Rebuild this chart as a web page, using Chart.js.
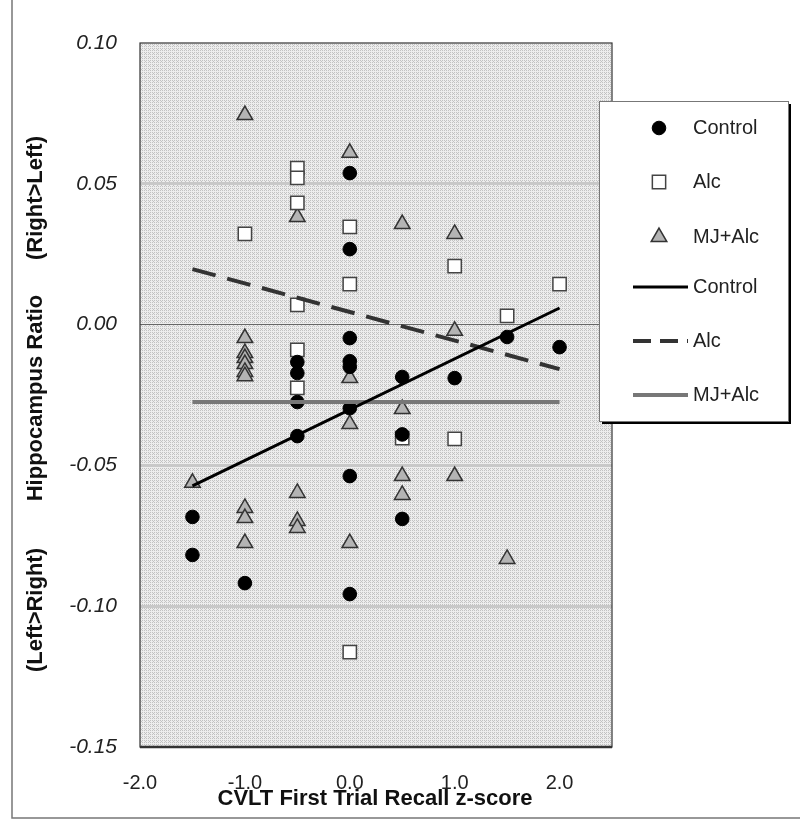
<!DOCTYPE html>
<html>
<head>
<meta charset="utf-8">
<script src="https://cdn.jsdelivr.net/npm/chart.js@4.4.1/dist/chart.umd.min.js"></script>
<style>
  html, body { margin: 0; padding: 0; background: #fff; }
  #wrap { width: 800px; height: 830px; }
</style>
</head>
<body>
<div id="wrap"><canvas id="graph" width="800" height="830"></canvas></div>
<script>
"use strict";

// values
const controlX = [-1.5, -1.5, -1.0, -0.5, -0.5, -0.5, -0.5, 0, 0, 0, 0, 0, 0, 0, 0, 0.5, 0.5, 0.5, 1.0, 1.5, 2.0];
const controlY = [-0.0683, -0.0818, -0.0918, -0.0133, -0.0172, -0.0275, -0.0396, 0.0538, 0.0268, -0.0048, -0.013, -0.015, -0.0297, -0.0538, -0.0957, -0.0186, -0.039, -0.069, -0.019, -0.0044, -0.008];

const alcX = [-1.0, -0.5, -0.5, -0.5, -0.5, -0.5, -0.5, 0, 0, 0, 0.5, 1.0, 1.0, 1.5, 2.0];
const alcY = [0.0322, 0.0556, 0.0521, 0.0432, 0.007, -0.009, -0.0225, 0.0347, 0.0144, -0.1163, -0.0403, 0.0208, -0.0406, 0.0031, 0.0144];

const mjX = [-1.5, -1.0, -1.0, -1.0, -1.0, -1.0, -1.0, -1.0, -1.0, -1.0, -1.0, -0.5, -0.5, -0.5, -0.5, 0, 0, 0, 0, 0.5, 0.5, 0.5, 0.5, 1.0, 1.0, 1.0, 1.5];
const mjY = [-0.0562, 0.0744, -0.0048, -0.0101, -0.0119, -0.014, -0.0168, -0.0183, -0.0651, -0.0687, -0.0776, 0.0382, -0.0598, -0.0697, -0.0722, 0.061, -0.019, -0.0353, -0.0776, 0.0357, -0.03, -0.0538, -0.0605, 0.0322, -0.0022, -0.0538, -0.0832];

// fitted lines (end points as drawn)
const fitX = [-1.5, 2.0];
const controlFit = [-0.0573, 0.0059];
const alcFit = [0.0197, -0.0158];
const mjFit = [-0.0275, -0.0275];

const xTicks = { min: -2.0, max: 2.5, labels: [-2.0, -1.0, 0.0, 1.0, 2.0] };
const yTicks = { min: -0.15, max: 0.10, step: 0.05 };

const FONT = "'Liberation Sans', Arial, sans-serif";

function pts(xs, ys) {
	return xs.map((x, i) => ({ x, y: ys[i] }));
}

function makePattern() {
	const c = document.createElement("canvas");
	c.width = 4;
	c.height = 4;
	const g = c.getContext("2d");
	g.fillStyle = "#ededed";
	g.fillRect(0, 0, 4, 4);
	g.fillStyle = "#c2c2c2";
	[[0, 0], [2, 0], [1, 1], [0, 2], [2, 2]].forEach(([a, b]) => g.fillRect(a, b, 1, 1));
	return c;
}

const markerStyles = [
	{ label: "Control", style: "circle", radius: 6.8, bg: "#000", border: "#000", bw: 1 },
	{ label: "Alc", style: "rect", radius: 9.4, bg: "#fff", border: "#444", bw: 1.5 },
	{ label: "MJ+Alc", style: "triangle", radius: 9, bg: "#b4b4b4", border: "#333", bw: 1.5 },
];
const lineStyles = [
	{ label: "Control", color: "#000", width: 3, dash: [] },
	{ label: "Alc", color: "#333", width: 4, dash: [24, 12] },
	{ label: "MJ+Alc", color: "#777", width: 4, dash: [] },
];

const background = {
	id: "background",
	beforeDraw(chart) {
		const { ctx, chartArea: a } = chart;
		ctx.save();
		ctx.fillStyle = ctx.createPattern(makePattern(), "repeat");
		ctx.fillRect(a.left, a.top, a.right - a.left, a.bottom - a.top);
		ctx.restore();
	},
};

const decorations = {
	id: "decorations",
	afterDraw(chart) {
		const { ctx, chartArea: a } = chart;
		ctx.save();
		// outer frame (left and bottom)
		ctx.strokeStyle = "#777";
		ctx.lineWidth = 1.5;
		ctx.beginPath();
		ctx.moveTo(12, 0);
		ctx.lineTo(12, 818);
		ctx.lineTo(800, 818);
		ctx.stroke();

		// plot border
		ctx.strokeStyle = "#333";
		ctx.lineWidth = 1.2;
		ctx.strokeRect(a.left, a.top, a.right - a.left, a.bottom - a.top);
		ctx.lineWidth = 2.5;
		ctx.beginPath();
		ctx.moveTo(a.left, a.bottom);
		ctx.lineTo(a.right, a.bottom);
		ctx.stroke();

		// axis titles
		ctx.fillStyle = "#111";
		ctx.font = "bold 22px " + FONT;
		ctx.textAlign = "center";
		ctx.textBaseline = "middle";
		ctx.fillText("CVLT First Trial Recall z-score", 375, 799);

		ctx.font = "bold 22px " + FONT;
		[["(Right>Left)", 198], ["Hippocampus Ratio", 398], ["(Left>Right)", 610]].forEach(([t, y]) => {
			ctx.save();
			ctx.translate(36, y);
			ctx.rotate(-Math.PI / 2);
			ctx.fillText(t, 0, 0);
			ctx.restore();
		});

		// legend box with shadow
		const lx = 599, ly = 101, lw = 189, lh = 320;
		ctx.fillStyle = "#000";
		ctx.fillRect(lx + lw, ly + 3, 3, lh);
		ctx.fillRect(lx + 3, ly + lh, lw, 3);
		ctx.fillStyle = "#fff";
		ctx.fillRect(lx, ly, lw, lh);
		ctx.strokeStyle = "#777";
		ctx.lineWidth = 1;
		ctx.strokeRect(lx + 0.5, ly + 0.5, lw, lh);

		ctx.font = "20px " + FONT;
		ctx.textAlign = "left";
		const rows = [128, 182, 237, 287, 341, 395];
		markerStyles.forEach((m, i) => {
			ctx.fillStyle = m.bg;
			ctx.strokeStyle = m.border;
			ctx.lineWidth = m.bw;
			Chart.helpers.drawPoint(ctx, { pointStyle: m.style, radius: m.radius, borderWidth: m.bw, rotation: 0 }, 659, rows[i]);
			ctx.fillStyle = "#222";
			ctx.fillText(m.label, 693, rows[i]);
		});
		lineStyles.forEach((l, i) => {
			const y = rows[i + 3];
			ctx.strokeStyle = l.color;
			ctx.lineWidth = l.width;
			ctx.setLineDash(l.dash.length ? [18, 9] : []);
			ctx.beginPath();
			ctx.moveTo(633, y);
			ctx.lineTo(688, y);
			ctx.stroke();
			ctx.setLineDash([]);
			ctx.fillStyle = "#222";
			ctx.fillText(l.label, 693, y);
		});
		ctx.restore();
	},
};

const datasets = [
	{ data: pts(controlX, controlY) },
	{ data: pts(alcX, alcY) },
	{ data: pts(mjX, mjY) },
].map((d, i) => {
	const m = markerStyles[i];
	return Object.assign(d, {
		label: m.label,
		order: 1,
		showLine: false,
		pointStyle: m.style,
		pointRadius: m.radius,
		pointBackgroundColor: m.bg,
		pointBorderColor: m.border,
		pointBorderWidth: m.bw,
	});
});

[controlFit, alcFit, mjFit].forEach((fit, i) => {
	const l = lineStyles[i];
	datasets.push({
		label: l.label + " fit",
		data: pts(fitX, fit),
		order: 0,
		showLine: true,
		pointRadius: 0,
		borderColor: l.color,
		borderWidth: l.width,
		borderDash: l.dash,
		borderCapStyle: "butt",
	});
});

new Chart(document.querySelector("#graph").getContext("2d"), {
	type: "scatter",
	data: { datasets },
	options: {
		responsive: false,
		animation: false,
		layout: { padding: { top: 43, right: 188, left: 0, bottom: 0 } },
		plugins: { legend: { display: false }, tooltip: { enabled: false } },
		scales: {
			x: {
				type: "linear",
				min: xTicks.min,
				max: xTicks.max,
				border: { display: false },
				grid: { display: false, drawTicks: false },
				afterBuildTicks(scale) {
					scale.ticks = xTicks.labels.map((value) => ({ value }));
				},
				afterFit(scale) {
					scale.height = 83;
				},
				ticks: {
					padding: 24,
					color: "#222",
					font: { family: FONT, size: 20 },
					callback: (v) => (Math.abs(v) < 1e-9 ? 0 : v).toFixed(1),
				},
			},
			y: {
				type: "linear",
				min: yTicks.min,
				max: yTicks.max,
				border: { display: false },
				grid: {
					drawTicks: false,
					color(ctx) {
						const v = ctx.tick ? ctx.tick.value : 1;
						if (Math.abs(v) < 1e-9) return "#666";
						if (v > 0.099 || v < -0.149) return "rgba(0,0,0,0)";
						return "#c8c8c8";
					},
					lineWidth(ctx) {
						const v = ctx.tick ? ctx.tick.value : 1;
						return Math.abs(v) < 1e-9 ? 1 : 3;
					},
				},
				afterFit(scale) {
					scale.width = 140;
				},
				ticks: {
					stepSize: yTicks.step,
					padding: 23,
					color: "#222",
					font: { family: FONT, size: 21, style: "italic" },
					callback: (v) => (Math.abs(v) < 1e-9 ? 0 : v).toFixed(2),
				},
			},
		},
	},
	plugins: [background, decorations],
});
</script>
</body>
</html>
